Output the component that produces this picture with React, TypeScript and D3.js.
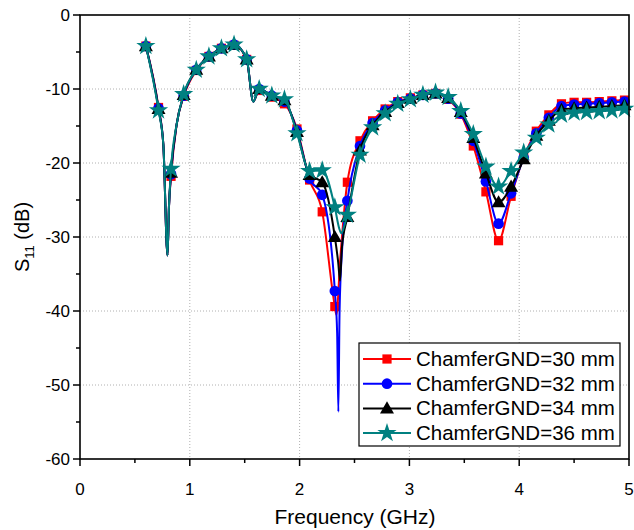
import React from "react";
import * as d3 from "d3";

// Marker frequencies (GHz)
const freqs = [
  0.6, 0.715, 0.829, 0.944, 1.059, 1.174, 1.288, 1.403, 1.518, 1.632, 1.747, 1.862, 1.976,
  2.091, 2.206, 2.321, 2.435, 2.55, 2.665, 2.779, 2.894, 3.009, 3.123, 3.238, 3.353, 3.468,
  3.582, 3.697, 3.812, 3.926, 4.041, 4.156, 4.27, 4.385, 4.5, 4.614, 4.729, 4.844, 4.959,
];

const s30 = [
  -4.2, -12.5, -21.8, -11.0, -7.5, -5.6, -4.5, -4.1, -6.0, -10.2, -11.1, -12.0, -15.4,
  -22.3, -26.6, -39.4, -22.6, -17.0, -14.3, -12.7, -11.7, -11.2, -10.8, -10.6, -11.4, -13.4,
  -17.7, -23.9, -30.5, -24.5, -19.2, -15.7, -13.5, -12.0, -11.8, -11.8, -11.7, -11.6, -11.5,
];
const s32 = [
  -4.2, -12.6, -21.5, -10.9, -7.4, -5.6, -4.5, -4.0, -6.0, -10.0, -10.9, -11.7, -15.6,
  -22.1, -24.3, -37.3, -25.1, -17.7, -14.6, -12.9, -11.8, -11.3, -10.8, -10.6, -11.3, -13.3,
  -17.0, -22.5, -28.2, -24.1, -19.3, -16.0, -13.9, -12.3, -12.1, -12.0, -11.9, -11.8, -11.7,
];
const s34 = [
  -4.2, -12.7, -21.3, -10.8, -7.4, -5.6, -4.5, -4.0, -6.0, -10.0, -10.9, -11.5, -15.8,
  -21.6, -22.6, -30.0, -27.3, -18.3, -14.9, -13.1, -11.9, -11.3, -10.8, -10.6, -11.2, -13.1,
  -16.6, -21.4, -25.3, -23.2, -19.5, -16.3, -14.3, -12.8, -12.6, -12.5, -12.4, -12.3, -12.2,
];
const s36 = [
  -4.2, -12.9, -20.8, -10.7, -7.4, -5.6, -4.5, -4.0, -6.0, -10.0, -10.9, -11.4, -16.0,
  -21.1, -21.0, -26.0, -27.0, -18.9, -15.2, -13.3, -12.0, -11.4, -10.8, -10.5, -11.1, -13.0,
  -16.1, -20.5, -23.2, -21.1, -18.6, -16.6, -14.8, -13.5, -13.2, -13.1, -13.0, -12.9, -12.7,
];

// Extra (unmarked) curve points: resonance dips and notches
const extra30: [number, number][] = [
  [0.759, -17.5], [0.797, -32.5], [0.81, -26.0], [0.88, -14.8], [1.578, -11.7],
  [2.335, -40.5], [2.37, -33.0],
];
const extra32: [number, number][] = [
  [0.759, -17.5], [0.797, -32.5], [0.81, -26.0], [0.88, -14.8], [1.578, -11.7],
  [2.342, -43.0], [2.353, -53.6], [2.364, -40.0], [2.39, -31.0],
];
const extra34: [number, number][] = [
  [0.759, -17.5], [0.797, -32.5], [0.81, -26.0], [0.88, -14.8], [1.578, -11.7],
  [2.352, -33.5], [2.368, -35.9], [2.385, -31.5],
];
const extra36: [number, number][] = [
  [0.759, -17.5], [0.797, -32.5], [0.81, -26.0], [0.88, -14.8], [1.578, -11.7],
  [2.36, -28.8], [2.38, -29.5], [2.405, -28.6],
];

const legendLabels = [
  "ChamferGND=30 mm",
  "ChamferGND=32 mm",
  "ChamferGND=34 mm",
  "ChamferGND=36 mm",
];
const colors = ["#ff0000", "#0000ff", "#000000", "#008080"];
const xTicks = [0, 1, 2, 3, 4, 5];
const yTicks = [0, -10, -20, -30, -40, -50, -60];

const W = 634;
const H = 530;
const L = 80;
const R = 629;
const T = 15;
const B = 459;
const FONT = "'Liberation Sans', Arial, sans-serif";

const x = d3.scaleLinear().domain([0, 5]).range([L, R]);
const y = d3.scaleLinear().domain([-60, 0]).range([B, T]);

const symbols = [d3.symbolSquare, d3.symbolCircle, d3.symbolTriangle, d3.symbolStar];
const symSizes = [85, 90, 85, 115];

const series = [
  { vals: s30, extra: extra30 },
  { vals: s32, extra: extra32 },
  { vals: s34, extra: extra34 },
  { vals: s36, extra: extra36 },
];

function Marker({ i, cx, cy }: { i: number; cx: number; cy: number }) {
  const p = d3.symbol().type(symbols[i]).size(symSizes[i])();
  const dy = i === 2 ? 1 : 0;
  return <path d={p || ""} transform={`translate(${cx},${cy + dy})`} fill={colors[i]} />;
}

export default function App() {
  const line = d3
    .line<[number, number]>()
    .x((d) => x(d[0]))
    .y((d) => y(d[1]))
    .curve(d3.curveMonotoneX);

  const minorX = [0.5, 1.5, 2.5, 3.5, 4.5];
  const minorY = [-5, -15, -25, -35, -45, -55];

  return (
    <svg
      width={W}
      height={H}
      style={{ position: "absolute", left: 0, top: 0, background: "#fff" }}
      fontFamily={FONT}
    >
      <rect x={0} y={0} width={W} height={H} fill="#fff" />
      {/* grid */}
      {xTicks.slice(1, -1).map((t) => (
        <line key={"gx" + t} x1={x(t)} x2={x(t)} y1={T} y2={B} stroke="#b0b0b0" strokeWidth={1} strokeDasharray="1,2" />
      ))}
      {yTicks.slice(1, -1).map((t) => (
        <line key={"gy" + t} x1={L} x2={R} y1={y(t)} y2={y(t)} stroke="#b0b0b0" strokeWidth={1} strokeDasharray="1,2" />
      ))}

      {/* series */}
      {series.map((s, i) => {
        const pts: [number, number][] = freqs.map((f, k) => [f, s.vals[k]] as [number, number]);
        const all = pts.concat(s.extra).sort((a, b) => a[0] - b[0]);
        return (
          <g key={"s" + i}>
            <path d={line(all) || ""} fill="none" stroke={colors[i]} strokeWidth={2} />
            {pts.map((p, k) => (
              <Marker key={k} i={i} cx={x(p[0])} cy={y(p[1])} />
            ))}
          </g>
        );
      })}

      {/* frame */}
      <rect x={L} y={T} width={R - L} height={B - T} fill="none" stroke="#000" strokeWidth={1.6} />

      {/* x ticks */}
      {xTicks.map((t) => (
        <g key={"xt" + t}>
          <line x1={x(t)} x2={x(t)} y1={B} y2={B + 7} stroke="#000" strokeWidth={1.5} />
          <text x={x(t)} y={B + 36} textAnchor="middle" fontSize={17} fill="#000">
            {t}
          </text>
        </g>
      ))}
      {minorX.map((t) => (
        <line key={"mx" + t} x1={x(t)} x2={x(t)} y1={B} y2={B + 4} stroke="#000" strokeWidth={1.5} />
      ))}
      {/* y ticks */}
      {yTicks.map((t) => (
        <g key={"yt" + t}>
          <line x1={L - 7} x2={L} y1={y(t)} y2={y(t)} stroke="#000" strokeWidth={1.5} />
          <text x={L - 10} y={y(t) + 6} textAnchor="end" fontSize={17} fill="#000">
            {t}
          </text>
        </g>
      ))}
      {minorY.map((t) => (
        <line key={"my" + t} x1={L - 4} x2={L} y1={y(t)} y2={y(t)} stroke="#000" strokeWidth={1.5} />
      ))}

      {/* axis titles */}
      <text x={355} y={524} textAnchor="middle" fontSize={21} fill="#000">
        Frequency (GHz)
      </text>
      <text transform={`translate(29,${(T + B) / 2}) rotate(-90)`} textAnchor="middle" fontSize={20} fill="#000">
        S<tspan fontSize={13} dy={5}>11</tspan>
        <tspan dy={-5}> (dB)</tspan>
      </text>

      {/* legend */}
      <rect x={359} y={343} width={261} height={103} fill="#fff" stroke="#000" strokeWidth={1.2} />
      {legendLabels.map((lab, i) => {
        const ly = 359 + i * 24.7;
        return (
          <g key={"lg" + i}>
            <line x1={363} x2={411} y1={ly} y2={ly} stroke={colors[i]} strokeWidth={2} />
            <Marker i={i} cx={387} cy={ly} />
            <text x={416} y={ly + 7} fontSize={20.5} fill="#000">
              {lab}
            </text>
          </g>
        );
      })}
    </svg>
  );
}
